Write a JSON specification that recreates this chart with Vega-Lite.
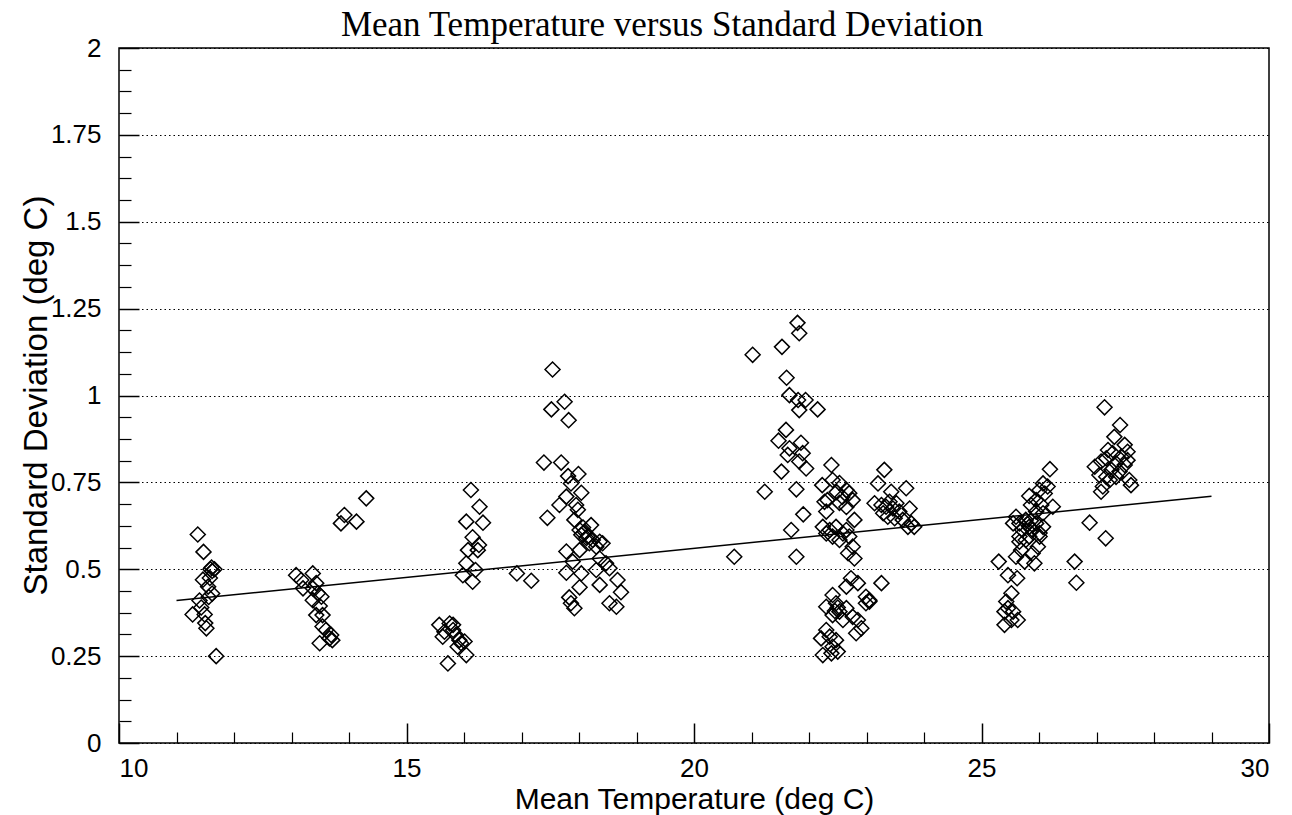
{
  "$schema": "https://vega.github.io/schema/vega-lite/v6.json",
  "width": 1150,
  "height": 695,
  "autosize": {"type": "none"},
  "padding": {"left": 119, "top": 48, "right": 23, "bottom": 72},
  "background": "white",
  "title": {"text": "Mean Temperature versus Standard Deviation", "font": "Liberation Serif", "fontSize": 35, "fontWeight": "normal", "color": "black", "dx": -32, "offset": -8},
  "config": {
    "view": {"stroke": "black", "strokeWidth": 1.5},
    "axis": {"labelFont": "Liberation Sans", "titleFont": "Liberation Sans", "labelColor": "black", "titleColor": "black", "titleFontWeight": "normal", "domain": false, "tickColor": "black"}
  },
  "datasets": {
    "pts": [
      {"temp":11.37,"sd":0.60},{"temp":11.47,"sd":0.55},{"temp":11.59,"sd":0.50},{"temp":11.62,"sd":0.495},{"temp":11.66,"sd":0.50},{"temp":11.61,"sd":0.505},{"temp":11.46,"sd":0.47},{"temp":11.58,"sd":0.475},{"temp":11.62,"sd":0.43},{"temp":11.56,"sd":0.42},{"temp":11.40,"sd":0.41},{"temp":11.43,"sd":0.39},{"temp":11.28,"sd":0.37},{"temp":11.49,"sd":0.37},{"temp":11.50,"sd":0.345},{"temp":11.52,"sd":0.33},{"temp":11.69,"sd":0.25},{"temp":11.55,"sd":0.45},
      {"temp":13.08,"sd":0.483},{"temp":13.37,"sd":0.488},{"temp":13.17,"sd":0.469},{"temp":13.43,"sd":0.46},{"temp":13.20,"sd":0.445},{"temp":13.37,"sd":0.445},{"temp":13.46,"sd":0.431},{"temp":13.37,"sd":0.411},{"temp":13.52,"sd":0.421},{"temp":13.49,"sd":0.394},{"temp":13.43,"sd":0.368},{"temp":13.54,"sd":0.368},{"temp":13.54,"sd":0.335},{"temp":13.60,"sd":0.325},{"temp":13.69,"sd":0.311},{"temp":13.66,"sd":0.301},{"temp":13.49,"sd":0.287},{"temp":13.71,"sd":0.296},
      {"temp":14.30,"sd":0.704},{"temp":13.92,"sd":0.656},{"temp":13.86,"sd":0.632},{"temp":14.13,"sd":0.637},
      {"temp":15.57,"sd":0.34},{"temp":15.66,"sd":0.32},{"temp":15.75,"sd":0.344},{"temp":15.81,"sd":0.325},{"temp":15.86,"sd":0.311},{"temp":15.92,"sd":0.296},{"temp":16.01,"sd":0.292},{"temp":15.89,"sd":0.277},{"temp":16.04,"sd":0.253},{"temp":15.72,"sd":0.229},{"temp":15.81,"sd":0.34},{"temp":15.95,"sd":0.287},{"temp":15.63,"sd":0.306},
      {"temp":16.12,"sd":0.728},{"temp":16.27,"sd":0.68},{"temp":16.04,"sd":0.637},{"temp":16.33,"sd":0.634},{"temp":16.15,"sd":0.592},{"temp":16.26,"sd":0.57},{"temp":16.07,"sd":0.555},{"temp":16.24,"sd":0.555},{"temp":16.04,"sd":0.517},{"temp":16.20,"sd":0.498},{"temp":15.98,"sd":0.483},{"temp":16.15,"sd":0.464},
      {"temp":16.92,"sd":0.488},{"temp":17.17,"sd":0.467},
      {"temp":17.54,"sd":1.075},{"temp":17.75,"sd":0.982},{"temp":17.52,"sd":0.96},{"temp":17.82,"sd":0.929},{"temp":17.39,"sd":0.807},{"temp":17.69,"sd":0.807},{"temp":17.99,"sd":0.774},{"temp":17.81,"sd":0.768},{"temp":17.86,"sd":0.747},{"temp":18.04,"sd":0.72},{"temp":17.95,"sd":0.685},{"temp":17.66,"sd":0.685},{"temp":17.78,"sd":0.709},{"temp":17.45,"sd":0.648},{"temp":17.98,"sd":0.671},{"temp":17.92,"sd":0.642},
      {"temp":18.01,"sd":0.613},{"temp":18.10,"sd":0.608},{"temp":18.21,"sd":0.627},{"temp":18.04,"sd":0.599},{"temp":18.15,"sd":0.594},{"temp":18.24,"sd":0.584},{"temp":18.36,"sd":0.579},{"temp":18.30,"sd":0.565},{"temp":18.41,"sd":0.575},{"temp":18.18,"sd":0.575},{"temp":18.07,"sd":0.62},{"temp":18.13,"sd":0.59},
      {"temp":17.78,"sd":0.551},{"temp":18.01,"sd":0.555},{"temp":17.89,"sd":0.522},{"temp":18.36,"sd":0.531},{"temp":18.47,"sd":0.517},{"temp":18.53,"sd":0.503},{"temp":18.30,"sd":0.498},{"temp":17.78,"sd":0.49},{"temp":18.04,"sd":0.488},{"temp":18.67,"sd":0.469},{"temp":18.36,"sd":0.455},{"temp":18.01,"sd":0.448},{"temp":18.73,"sd":0.434},{"temp":17.83,"sd":0.419},{"temp":17.86,"sd":0.402},{"temp":17.92,"sd":0.388},{"temp":18.53,"sd":0.402},{"temp":18.65,"sd":0.392},
      {"temp":21.80,"sd":1.209},{"temp":21.83,"sd":1.179},{"temp":21.02,"sd":1.117},{"temp":21.53,"sd":1.14},{"temp":21.61,"sd":1.051},{"temp":21.66,"sd":1.001},{"temp":21.81,"sd":0.987},{"temp":21.94,"sd":0.987},{"temp":21.83,"sd":0.958},{"temp":22.15,"sd":0.96},{"temp":21.60,"sd":0.901},{"temp":21.47,"sd":0.87},{"temp":21.86,"sd":0.864},{"temp":21.66,"sd":0.848},{"temp":21.63,"sd":0.829},{"temp":21.89,"sd":0.834},{"temp":21.83,"sd":0.81},{"temp":21.95,"sd":0.79},{"temp":21.52,"sd":0.781},{"temp":21.23,"sd":0.723},{"temp":21.78,"sd":0.73},{"temp":21.90,"sd":0.658},{"temp":21.69,"sd":0.613},{"temp":20.70,"sd":0.536},{"temp":21.78,"sd":0.536},
      {"temp":22.39,"sd":0.80},{"temp":22.23,"sd":0.742},{"temp":22.41,"sd":0.757},{"temp":22.53,"sd":0.748},{"temp":22.65,"sd":0.728},{"temp":22.58,"sd":0.708},{"temp":22.70,"sd":0.719},{"temp":22.76,"sd":0.699},{"temp":22.48,"sd":0.722},{"temp":22.32,"sd":0.699},{"temp":22.53,"sd":0.691},{"temp":22.65,"sd":0.679},{"temp":22.27,"sd":0.694},{"temp":22.30,"sd":0.666},{"temp":22.79,"sd":0.642},
      {"temp":22.24,"sd":0.622},{"temp":22.36,"sd":0.613},{"temp":22.47,"sd":0.622},{"temp":22.59,"sd":0.603},{"temp":22.65,"sd":0.613},{"temp":22.70,"sd":0.594},{"temp":22.76,"sd":0.565},{"temp":22.53,"sd":0.584},{"temp":22.41,"sd":0.594},{"temp":22.30,"sd":0.603},{"temp":22.68,"sd":0.546},{"temp":22.79,"sd":0.531},
      {"temp":22.73,"sd":0.474},{"temp":22.85,"sd":0.46},{"temp":22.65,"sd":0.45},{"temp":22.99,"sd":0.421},{"temp":23.05,"sd":0.407},{"temp":22.41,"sd":0.426},{"temp":22.30,"sd":0.392},{"temp":22.47,"sd":0.402},{"temp":22.53,"sd":0.378},{"temp":22.65,"sd":0.388},{"temp":22.41,"sd":0.368},{"temp":22.76,"sd":0.363},{"temp":22.85,"sd":0.354},{"temp":22.59,"sd":0.354},{"temp":22.91,"sd":0.33},{"temp":22.82,"sd":0.316},{"temp":22.30,"sd":0.325},{"temp":22.36,"sd":0.306},{"temp":22.21,"sd":0.301},{"temp":22.47,"sd":0.296},{"temp":22.41,"sd":0.277},{"temp":22.24,"sd":0.253},{"temp":22.39,"sd":0.258},{"temp":22.50,"sd":0.263},{"temp":22.45,"sd":0.38},{"temp":22.50,"sd":0.39},
      {"temp":23.31,"sd":0.786},{"temp":23.20,"sd":0.747},{"temp":23.69,"sd":0.733},{"temp":23.43,"sd":0.723},{"temp":23.14,"sd":0.69},{"temp":23.26,"sd":0.685},{"temp":23.34,"sd":0.68},{"temp":23.46,"sd":0.675},{"temp":23.40,"sd":0.694},{"temp":23.52,"sd":0.69},{"temp":23.29,"sd":0.661},{"temp":23.37,"sd":0.651},{"temp":23.49,"sd":0.647},{"temp":23.57,"sd":0.666},{"temp":23.63,"sd":0.642},{"temp":23.75,"sd":0.675},{"temp":23.78,"sd":0.632},{"temp":23.83,"sd":0.622},{"temp":23.72,"sd":0.622},{"temp":23.26,"sd":0.46},{"temp":23.05,"sd":0.411},{"temp":22.99,"sd":0.402},
      {"temp":26.19,"sd":0.788},{"temp":26.07,"sd":0.747},{"temp":26.15,"sd":0.738},{"temp":26.01,"sd":0.728},{"temp":25.83,"sd":0.711},{"temp":26.10,"sd":0.718},{"temp":25.95,"sd":0.699},{"temp":26.04,"sd":0.685},{"temp":26.24,"sd":0.68},{"temp":25.86,"sd":0.685},{"temp":25.95,"sd":0.666},{"temp":26.07,"sd":0.661},
      {"temp":25.60,"sd":0.651},{"temp":25.66,"sd":0.632},{"temp":25.77,"sd":0.642},{"temp":25.83,"sd":0.622},{"temp":25.71,"sd":0.613},{"temp":25.89,"sd":0.613},{"temp":25.95,"sd":0.632},{"temp":26.01,"sd":0.604},{"temp":25.83,"sd":0.594},{"temp":25.66,"sd":0.594},{"temp":25.77,"sd":0.584},{"temp":26.07,"sd":0.622},{"temp":25.55,"sd":0.632},{"temp":25.80,"sd":0.63},{"temp":25.86,"sd":0.64},
      {"temp":25.66,"sd":0.579},{"temp":26.01,"sd":0.594},{"temp":25.98,"sd":0.565},{"temp":25.69,"sd":0.555},{"temp":25.89,"sd":0.546},{"temp":25.60,"sd":0.536},{"temp":25.75,"sd":0.522},{"temp":25.92,"sd":0.517},{"temp":25.30,"sd":0.522},{"temp":25.46,"sd":0.483},{"temp":25.62,"sd":0.474},{"temp":25.52,"sd":0.431},{"temp":25.43,"sd":0.407},{"temp":25.46,"sd":0.388},{"temp":25.55,"sd":0.378},{"temp":25.40,"sd":0.378},{"temp":25.63,"sd":0.354},{"temp":25.40,"sd":0.34},{"temp":25.52,"sd":0.354},
      {"temp":26.62,"sd":0.522},{"temp":26.65,"sd":0.461},{"temp":26.88,"sd":0.634},{"temp":27.16,"sd":0.589},
      {"temp":27.14,"sd":0.966},{"temp":27.41,"sd":0.915},{"temp":27.31,"sd":0.881},{"temp":27.49,"sd":0.858},{"temp":27.54,"sd":0.838},{"temp":27.20,"sd":0.843},{"temp":27.28,"sd":0.834},{"temp":27.43,"sd":0.824},{"temp":27.54,"sd":0.814},{"temp":27.17,"sd":0.819},{"temp":27.08,"sd":0.81},{"temp":27.34,"sd":0.805},{"temp":27.49,"sd":0.80},{"temp":26.97,"sd":0.795},{"temp":27.26,"sd":0.786},{"temp":27.40,"sd":0.781},{"temp":27.05,"sd":0.771},{"temp":27.17,"sd":0.766},{"temp":27.34,"sd":0.766},{"temp":27.57,"sd":0.757},{"temp":27.60,"sd":0.742},{"temp":27.11,"sd":0.738},{"temp":27.08,"sd":0.723},{"temp":27.23,"sd":0.757}
    ],
    "trend": [{"temp": 11, "sd": 0.41}, {"temp": 29, "sd": 0.71}]
  },
  "layer": [
    {
      "data": {"name": "pts"},
      "mark": {"type": "point", "shape": "diamond", "size": 225, "filled": false, "stroke": "black", "strokeWidth": 1.5, "opacity": 1},
      "encoding": {
        "x": {"field": "temp", "type": "quantitative", "scale": {"domain": [10, 30], "nice": false, "zero": false},
          "axis": {"orient": "bottom", "title": "Mean Temperature (deg C)", "values": [10, 15, 20, 25, 30], "ticks": false, "grid": false, "labelFontSize": 26, "labelPadding": 12, "titleFontSize": 30, "titleBaseline": "alphabetic", "titleY": 65}},
        "y": {"field": "sd", "type": "quantitative", "scale": {"domain": [0, 2], "nice": false},
          "axis": {"orient": "left", "title": "Standard Deviation (deg C)", "values": [0, 0.25, 0.5, 0.75, 1, 1.25, 1.5, 1.75, 2], "format": ".3~g", "ticks": false, "grid": true, "gridColor": "black", "gridDash": [1.5, 3], "gridWidth": 1.2, "labelFontSize": 26, "labelPadding": 18, "titleFontSize": 33, "titleBaseline": "middle", "titleX": -83, "titleY": 347}}
      }
    },
    {
      "data": {"name": "trend"},
      "mark": {"type": "line", "color": "black", "strokeWidth": 1.5},
      "encoding": {
        "x": {"field": "temp", "type": "quantitative", "axis": {"orient": "bottom", "title": null, "labels": false, "grid": false, "values": [10, 15, 20, 25, 30], "tickSize": -20, "tickWidth": 1.5}},
        "y": {"field": "sd", "type": "quantitative", "axis": {"orient": "left", "title": null, "labels": false, "grid": false, "values": [0, 0.25, 0.5, 0.75, 1, 1.25, 1.5, 1.75, 2], "tickSize": -20, "tickWidth": 1.5}}
      }
    },
    {
      "data": {"name": "trend"},
      "mark": {"type": "point", "opacity": 0},
      "encoding": {
        "x": {"field": "temp", "type": "quantitative", "axis": {"orient": "bottom", "title": null, "labels": false, "grid": false, "values": [11,12,13,14,16,17,18,19,21,22,23,24,26,27,28,29], "tickSize": -11, "tickWidth": 1.2}},
        "y": {"field": "sd", "type": "quantitative", "axis": {"orient": "left", "title": null, "labels": false, "grid": false, "values": [0.0625,0.125,0.1875,0.3125,0.375,0.4375,0.5625,0.625,0.6875,0.8125,0.875,0.9375,1.0625,1.125,1.1875,1.3125,1.375,1.4375,1.5625,1.625,1.6875,1.8125,1.875,1.9375], "tickSize": -12, "tickWidth": 1.2}}
      }
    }
  ],
  "resolve": {"axis": {"x": "independent", "y": "independent"}}
}
